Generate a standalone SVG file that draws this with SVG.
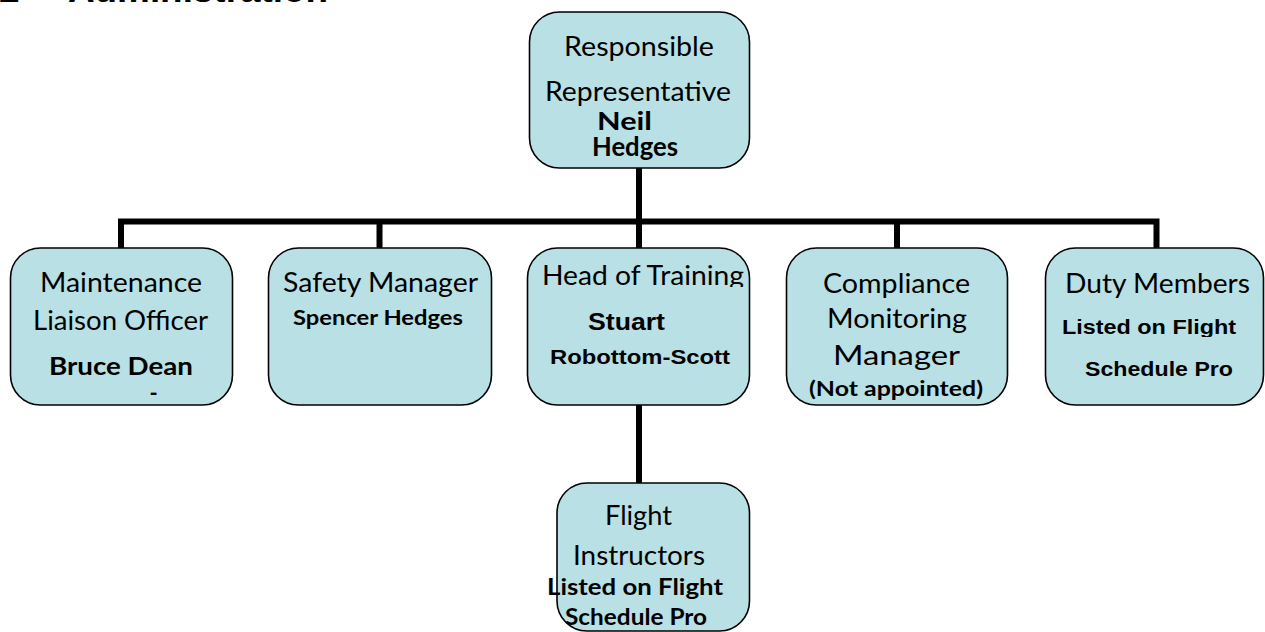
<svg xmlns="http://www.w3.org/2000/svg" width="1265" height="632" viewBox="0 0 1265 632">
<style>
.box{fill:#b9e0e4;stroke:#000;stroke-width:1.6}
.c{font-family:Lato,"Open Sans","Liberation Sans",sans-serif;fill:#000}
.r{font-size:26px;font-weight:400}
.b{font-weight:700}
.a{font-family:"Liberation Sans",Arial,sans-serif;font-weight:700;fill:#000}
.conn{stroke:#000;stroke-width:6;fill:none}
</style>
<defs>
<clipPath id="clipHT"><rect x="527" y="240" width="223" height="47"/></clipPath>
<clipPath id="clipLF"><rect x="1045" y="300" width="218" height="37"/></clipPath>
</defs>
<g id="title">
<text class="a" x="-1" y="1.5" font-size="37">2</text>
<text class="a" x="68" y="1.5" font-size="37" textLength="260" lengthAdjust="spacingAndGlyphs">Administration</text>
</g>
<g id="connectors">
<line class="conn" x1="639" y1="168" x2="639" y2="221.5"/>
<polyline class="conn" points="121,248 121,221.5 1156.5,221.5 1156.5,248"/>
<line class="conn" x1="379.5" y1="221.5" x2="379.5" y2="248"/>
<line class="conn" x1="639" y1="221.5" x2="639" y2="248"/>
<line class="conn" x1="897" y1="221.5" x2="897" y2="248"/>
<line class="conn" x1="639" y1="405" x2="639" y2="483"/>
</g>
<g id="node-rr">
<rect class="box" x="529.5" y="12" width="220" height="156" rx="30"/>
<text class="c r" x="639" y="56" text-anchor="middle" textLength="150" lengthAdjust="spacingAndGlyphs">Responsible</text>
<text class="c r" x="638" y="101" text-anchor="middle" textLength="186" lengthAdjust="spacingAndGlyphs">Representative</text>
<text class="c b" x="597" y="130" font-size="25" textLength="55" lengthAdjust="spacingAndGlyphs">Neil</text>
<text class="c b" x="592" y="156" font-size="26" textLength="86" lengthAdjust="spacingAndGlyphs">Hedges</text>
</g>
<g id="node-mlo">
<rect class="box" x="10.5" y="248" width="222" height="157" rx="30"/>
<text class="c r" x="121" y="292" text-anchor="middle" textLength="162" lengthAdjust="spacingAndGlyphs">Maintenance</text>
<text class="c r" x="120.5" y="330" text-anchor="middle" textLength="175" lengthAdjust="spacingAndGlyphs">Liaison Officer</text>
<text class="c b" x="121" y="375" font-size="25" text-anchor="middle" textLength="144" lengthAdjust="spacingAndGlyphs">Bruce Dean</text>
<text class="c b" x="153.5" y="401" font-size="22" text-anchor="middle">-</text>
</g>
<g id="node-sm">
<rect class="box" x="268.5" y="248" width="223" height="157" rx="30"/>
<text class="c r" x="380.5" y="292" text-anchor="middle" textLength="195" lengthAdjust="spacingAndGlyphs">Safety Manager</text>
<text class="c b" x="378" y="325" font-size="20" text-anchor="middle" textLength="170" lengthAdjust="spacingAndGlyphs">Spencer Hedges</text>
</g>
<g id="node-hot">
<rect class="box" x="527.5" y="248" width="222" height="157" rx="30"/>
<text class="c r" x="643" y="285" text-anchor="middle" clip-path="url(#clipHT)" textLength="202" lengthAdjust="spacingAndGlyphs">Head of Training</text>
<text class="a" x="626.5" y="330" font-size="24" text-anchor="middle" textLength="77" lengthAdjust="spacingAndGlyphs">Stuart</text>
<text class="a" x="640" y="364" font-size="21" text-anchor="middle" textLength="180" lengthAdjust="spacingAndGlyphs">Robottom-Scott</text>
</g>
<g id="node-cmm">
<rect class="box" x="786.5" y="248" width="221" height="157" rx="30"/>
<text class="c r" x="896.5" y="293" text-anchor="middle" textLength="147" lengthAdjust="spacingAndGlyphs">Compliance</text>
<text class="c r" x="897" y="328" text-anchor="middle" textLength="140" lengthAdjust="spacingAndGlyphs">Monitoring</text>
<text class="c r" x="896.5" y="365" text-anchor="middle" textLength="127" lengthAdjust="spacingAndGlyphs">Manager</text>
<text class="c b" x="896" y="396" font-size="20" text-anchor="middle" textLength="174" lengthAdjust="spacingAndGlyphs">(Not appointed)</text>
</g>
<g id="node-dm">
<rect class="box" x="1045.5" y="248" width="218" height="157" rx="30"/>
<text class="c r" x="1157.5" y="293" text-anchor="middle" textLength="185" lengthAdjust="spacingAndGlyphs">Duty Members</text>
<text class="a" x="1149" y="334" font-size="20" text-anchor="middle" clip-path="url(#clipLF)" textLength="174" lengthAdjust="spacingAndGlyphs">Listed on Flight</text>
<text class="a" x="1159" y="376" font-size="20" text-anchor="middle" textLength="148" lengthAdjust="spacingAndGlyphs">Schedule Pro</text>
</g>
<g id="node-fi">
<rect class="box" x="557" y="483" width="192.5" height="148" rx="30"/>
<text class="c r" x="638.5" y="525" text-anchor="middle" textLength="67" lengthAdjust="spacingAndGlyphs">Flight</text>
<text class="c r" x="639" y="565" text-anchor="middle" textLength="132" lengthAdjust="spacingAndGlyphs">Instructors</text>
<text class="c b" x="635" y="595" font-size="22" text-anchor="middle" textLength="176" lengthAdjust="spacingAndGlyphs">Listed on Flight</text>
<text class="c b" x="636" y="625" font-size="22" text-anchor="middle" textLength="142" lengthAdjust="spacingAndGlyphs">Schedule Pro</text>
</g>
</svg>
